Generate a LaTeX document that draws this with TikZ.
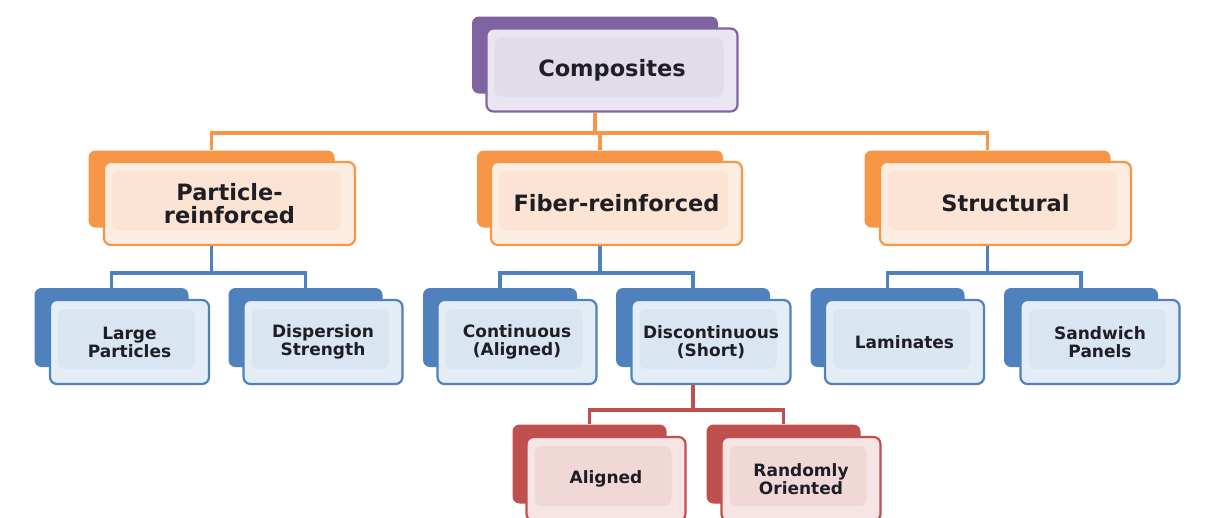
\documentclass[tikz,border=0pt]{standalone}
\usepackage{fontspec}
\setmainfont{DejaVu Sans}
\definecolor{cpur}{HTML}{8064A2}
\definecolor{cpurA}{HTML}{EAE6F1}
\definecolor{cpurB}{HTML}{E1DBEA}
\definecolor{cora}{HTML}{F79646}
\definecolor{coraA}{HTML}{FDEDE1}
\definecolor{coraB}{HTML}{FCE4D4}
\definecolor{cblu}{HTML}{4F81BD}
\definecolor{cbluA}{HTML}{E4EDF6}
\definecolor{cbluB}{HTML}{D9E5F1}
\definecolor{cred}{HTML}{C0504D}
\definecolor{credA}{HTML}{F6E5E4}
\definecolor{credB}{HTML}{F0D8D7}
\definecolor{ctxt}{HTML}{1E1E24}
\tikzset{
  backbox/.style={draw=none, fill=#1, rounded corners=7pt, inner sep=0pt},
  frontbox/.style n args={3}{draw=#1, line width=2.2pt, fill=#2, rounded corners=7pt,
    inner sep=0pt, align=center, text=ctxt,
    path picture={\fill[#3] ([shift={(8pt,15pt)}]path picture bounding box.south west)
      rectangle ([shift={(-14pt,-9pt)}]path picture bounding box.north east);}},
  bigback/.style={backbox=#1, minimum width=246pt, minimum height=77pt},
  bigfront/.style n args={3}{frontbox={#1}{#2}{#3}, minimum width=251pt, minimum height=83pt,
    font=\fontsize{22.5}{23}\selectfont\bfseries},
  smallback/.style={backbox=#1, minimum width=154pt, minimum height=79pt},
  smallfront/.style n args={3}{frontbox={#1}{#2}{#3}, minimum width=159pt, minimum height=84pt,
    font=\fontsize{17}{18}\selectfont\bfseries},
  conn/.style={draw=#1, line width=3.5pt},
}
\begin{document}
\begin{tikzpicture}[x=1pt,y=-1pt]
\useasboundingbox (0,0) rectangle (1206,517);
\fill[white] (0,0) rectangle (1206,517);
\clip (0,0) rectangle (1206,517);
% level 1
\node[bigback=cpur] (compB) at (595,55) {};
\node[bigfront={cpur}{cpurA}{cpurB}] (compF) at (612,70) {Composites};
% level 2
\node[bigback=cora] (partB) at (211.5,189) {};
\node[bigfront={cora}{coraA}{coraB}] (partF) at (229.5,203.5) {Particle-\\reinforced};
\node[bigback=cora] (fibB) at (600,189) {};
\node[bigfront={cora}{coraA}{coraB}] (fibF) at (616.5,203.5) {Fiber-reinforced};
\node[bigback=cora] (strB) at (987.5,189) {};
\node[bigfront={cora}{coraA}{coraB}] (strF) at (1005.5,203.5) {Structural};
% level 3
\node[smallback=cblu] (largeB) at (111.5,327.5) {};
\node[smallfront={cblu}{cbluA}{cbluB}] (largeF) at (129.5,342) {Large\\Particles};
\node[smallback=cblu] (dispB) at (305.5,327.5) {};
\node[smallfront={cblu}{cbluA}{cbluB}] (dispF) at (323,342) {Dispersion\\Strength};
\node[smallback=cblu] (contB) at (500,327.5) {};
\node[smallfront={cblu}{cbluA}{cbluB}] (contF) at (517,342) {Continuous\\(Aligned)};
\node[smallback=cblu] (discB) at (693,327.5) {};
\node[smallfront={cblu}{cbluA}{cbluB}] (discF) at (711,342) {Discontinuous\\(Short)};
\node[smallback=cblu] (lamB) at (887.5,327.5) {};
\node[smallfront={cblu}{cbluA}{cbluB}] (lamF) at (904.5,342) {Laminates};
\node[smallback=cblu] (sandB) at (1081,327.5) {};
\node[smallfront={cblu}{cbluA}{cbluB}] (sandF) at (1100,342) {Sandwich\\Panels};
% level 4
\node[smallback=cred] (aliB) at (589.5,464) {};
\node[smallfront={cred}{credA}{credB}] (aliF) at (606,479) {Aligned};
\node[smallback=cred] (ranB) at (783.5,464) {};
\node[smallfront={cred}{credA}{credB}] (ranF) at (801,479) {Randomly\\Oriented};
% bus coordinates
\coordinate (bus1) at (0,133);
\coordinate (bus2) at (0,273);
\coordinate (bus3) at (0,410);
% connectors level 1 -> 2
\draw[conn=cora] (compB |- compF.south) -- (compB |- bus1);
\draw[conn=cora] (partB.north) -- (partB |- bus1) -- (strB |- bus1) -- (strB.north);
\draw[conn=cora] (fibB |- bus1) -- (fibB.north);
% level 2 -> 3
\draw[conn=cblu] (partB |- partF.south) -- (partB |- bus2);
\draw[conn=cblu] (largeB.north) -- (largeB |- bus2) -- (dispB |- bus2) -- (dispB.north);
\draw[conn=cblu] (fibB |- fibF.south) -- (fibB |- bus2);
\draw[conn=cblu] (contB.north) -- (contB |- bus2) -- (discB |- bus2) -- (discB.north);
\draw[conn=cblu] (strB |- strF.south) -- (strB |- bus2);
\draw[conn=cblu] (lamB.north) -- (lamB |- bus2) -- (sandB |- bus2) -- (sandB.north);
% level 3 -> 4
\draw[conn=cred] (discB |- discF.south) -- (discB |- bus3);
\draw[conn=cred] (aliB.north) -- (aliB |- bus3) -- (ranB |- bus3) -- (ranB.north);
\end{tikzpicture}
\end{document}
